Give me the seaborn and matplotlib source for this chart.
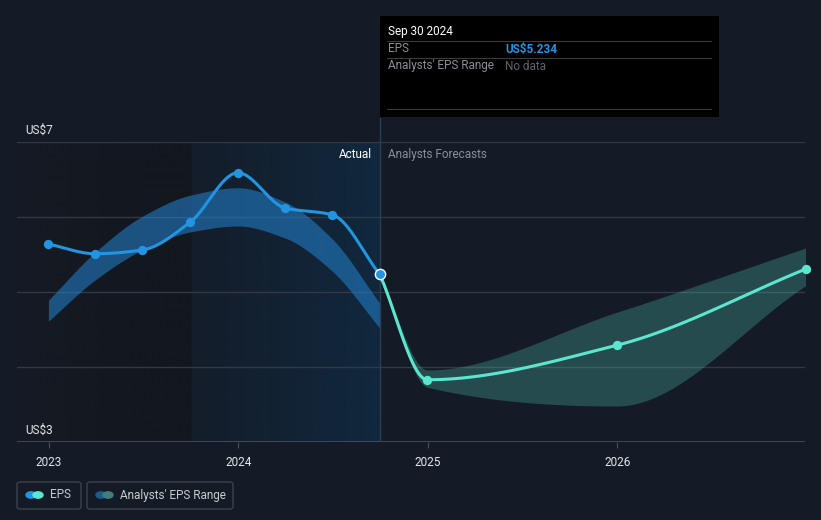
import numpy as np
import pandas as pd
import seaborn as sns
import matplotlib.pyplot as plt
from matplotlib.patches import Rectangle, FancyBboxPatch, Circle

# Data
actual_dates = ['2022-12-31', '2023-03-31', '2023-06-30', '2023-09-30',
                '2023-12-31', '2024-03-31', '2024-06-30', '2024-09-30']
actual_eps = [5.64, 5.51, 5.56, 5.93, 6.59, 6.12, 6.03, 5.234]
hist_upper = [4.89, 5.53, 6.01, 6.29, 6.39, 6.20, 5.71, 4.85]
hist_lower = [4.61, 5.16, 5.56, 5.80, 5.88, 5.72, 5.28, 4.52]

fc_dates = ['2024-09-30', '2024-12-31', '2025-12-31', '2026-12-31']
fc_eps = [5.234, 3.83, 4.29, 5.31]
fc_upper = [5.234, 3.96, 4.73, 5.59]
fc_lower = [5.234, 3.73, 3.48, 5.09]

year_ticks = [2023, 2024, 2025, 2026]

BG = '#151b26'
BLUE = '#2394df'
TEAL = '#5ce6d0'


def decyear(dates):
    d = pd.to_datetime(pd.Series(dates))
    return (d.dt.year + (d.dt.dayofyear - 1) / (365 + d.dt.is_leap_year)).to_numpy()


def smooth(x, y, n=40):
    # monotone cubic curve through the points (drawing only)
    x = np.asarray(x, float); y = np.asarray(y, float)
    h = np.diff(x); d = np.diff(y) / h
    m = np.zeros_like(y)
    m[0], m[-1] = d[0], d[-1]
    for i in range(1, len(y) - 1):
        if d[i - 1] * d[i] <= 0:
            m[i] = 0
        else:
            m[i] = 3 * (h[i - 1] + h[i]) / ((2 * h[i] + h[i - 1]) / d[i - 1] + (h[i] + 2 * h[i - 1]) / d[i])
    xs, ys = [], []
    for i in range(len(h)):
        t = np.linspace(0, 1, n, endpoint=(i == len(h) - 1))
        h00 = 2 * t**3 - 3 * t**2 + 1
        h10 = t**3 - 2 * t**2 + t
        h01 = -2 * t**3 + 3 * t**2
        h11 = t**3 - t**2
        xs.append(x[i] + t * h[i])
        ys.append(h00 * y[i] + h10 * h[i] * m[i] + h01 * y[i + 1] + h11 * h[i] * m[i + 1])
    return np.concatenate(xs), np.concatenate(ys)


sns.set_style('dark')
plt.rcParams['font.family'] = ['Roboto', 'DejaVu Sans']

ax_x = decyear(actual_dates)
fc_x = decyear(fc_dates)
now = ax_x[-1]

fig = plt.figure(figsize=(8.21, 5.2), dpi=100, facecolor=BG)
W, H = 821, 520
ax = fig.add_axes([17 / W, 1 - 442 / H, 788 / W, 300 / H])
ax.set_facecolor(BG)
x1 = 2026.99
x0 = x1 - 788 / 189.5

# background shading
dark = np.zeros((1, 300, 4))
dark[..., :3] = np.array([19, 23, 30]) / 255
dark[..., 3] = np.linspace(0.3, 1.0, 300)
ax.imshow(dark, extent=[x0, 2023.75, 3, 7], aspect='auto', zorder=0, interpolation='bilinear')
blue = np.zeros((1, 300, 4))
blue[..., :3] = np.array([17, 40, 62]) / 255
blue[..., 3] = np.linspace(0.15, 1.0, 300)
ax.imshow(blue, extent=[2023.75, now, 3, 7], aspect='auto', zorder=0, interpolation='bilinear')
ax.set_xlim(x0, x1)
ax.set_ylim(3, 7)

for v in [4, 5, 6, 7]:
    ax.axhline(v, color='#323844', lw=1, zorder=1)
ax.axhline(3, color='#4a505a', lw=1.2, zorder=1)

# bands
bx, bu = smooth(ax_x, hist_upper)
_, bl = smooth(ax_x, hist_lower)
ax.fill_between(bx, bl, bu, color='#2383d1', alpha=0.55, lw=0, zorder=2)
fx, fu = smooth(fc_x, fc_upper)
_, fl = smooth(fc_x, fc_lower)
ax.fill_between(fx, fl, fu, color=TEAL, alpha=0.24, lw=0, zorder=2)

# lines
lx, ly = smooth(ax_x, actual_eps)
sns.lineplot(x=lx, y=ly, ax=ax, color=BLUE, lw=2.2, zorder=4, sort=False)
gx, gy = smooth(fc_x, fc_eps)
sns.lineplot(x=gx, y=gy, ax=ax, color=TEAL, lw=2.2, zorder=4, sort=False)
sns.scatterplot(x=ax_x[:-1], y=actual_eps[:-1], ax=ax, color=BLUE, s=45, linewidth=0, zorder=5)
sns.scatterplot(x=fc_x[1:], y=fc_eps[1:], ax=ax, color=TEAL, s=45, linewidth=0, zorder=5, clip_on=False)
sns.scatterplot(x=[now], y=[actual_eps[-1]], ax=ax, color=BLUE, s=55, edgecolor='white', linewidth=1, zorder=6)

ax.axvline(now, color='#2c3e52', lw=1, zorder=3)
ax.plot([now, now], [7, 7 + 24 / 75], color='#2c3e52', lw=1, clip_on=False)

ax.text(now - 8 / 189.5, 6.83, 'Actual', color='white', fontsize=8.5, ha='right', va='center')
ax.text(now + 8 / 189.5, 6.83, 'Analysts Forecasts', color='#8a8f98', fontsize=8.5, ha='left', va='center')

ax.set_xticks(year_ticks)
ax.set_xticklabels([str(y) for y in year_ticks], color='#e6e6e6', fontsize=8.5)
ax.set_yticks([])
ax.tick_params(axis='x', length=4, color='#4a505a', pad=6, bottom=True)
for s in ax.spines.values():
    s.set_visible(False)
ax.grid(False)

fig.text(25 / W, 1 - 130 / H, 'US\\$7', color='#e6e6e6', fontsize=8.5, va='center')
fig.text(25 / W, 1 - 430 / H, 'US\\$3', color='#e6e6e6', fontsize=8.5, va='center')

# tooltip
fig.patches.append(Rectangle((380 / W, 1 - 117 / H), 339 / W, 101 / H, transform=fig.transFigure,
                             facecolor='black', edgecolor='none', zorder=10))
for yy in [41, 58, 109]:
    fig.lines.append(plt.Line2D([387 / W, 711 / W], [1 - yy / H] * 2, transform=fig.transFigure,
                                color='#3a3a3a', lw=0.8, zorder=11))
fig.text(388 / W, 1 - 31 / H, 'Sep 30 2024', color='white', fontsize=8.5, va='center', zorder=12)
fig.text(388 / W, 1 - 49 / H, 'EPS', color='#8a8f98', fontsize=8.5, va='center', zorder=12)
fig.text(505 / W, 1 - 49 / H, 'US\\$5.234', color=BLUE, fontsize=8.5, fontweight='bold', va='center', zorder=12)
fig.text(388 / W, 1 - 66 / H, "Analysts' EPS Range", color='#8a8f98', fontsize=8.5, va='center', zorder=12)
fig.text(505 / W, 1 - 66 / H, 'No data', color='#5f646c', fontsize=8.5, va='center', zorder=12)

# legend
for (lx0, lw_, label, c1, c2) in [(17, 64, 'EPS', BLUE, TEAL),
                                  (87, 146, "Analysts' EPS Range", '#1f5b8a', '#3d7f7c')]:
    fig.patches.append(FancyBboxPatch((lx0 / W, 1 - 509 / H), lw_ / W, 27 / H,
                                      boxstyle='round,pad=0,rounding_size=0.004', transform=fig.transFigure,
                                      facecolor='none', edgecolor='#3c424c', lw=1))
    cx = lx0 + 14
    fig.patches.append(Circle((cx / W, 1 - 495 / H), 5 / W, transform=fig.transFigure, color=c1))
    fig.patches.append(Circle(((cx + 7) / W, 1 - 495 / H), 5 / W, transform=fig.transFigure, color=c2))
    fig.text((lx0 + 33) / W, 1 - 495 / H, label, color='#c8ccd2', fontsize=8.5, va='center')

fig.savefig('out.png', dpi=100, facecolor=BG)
